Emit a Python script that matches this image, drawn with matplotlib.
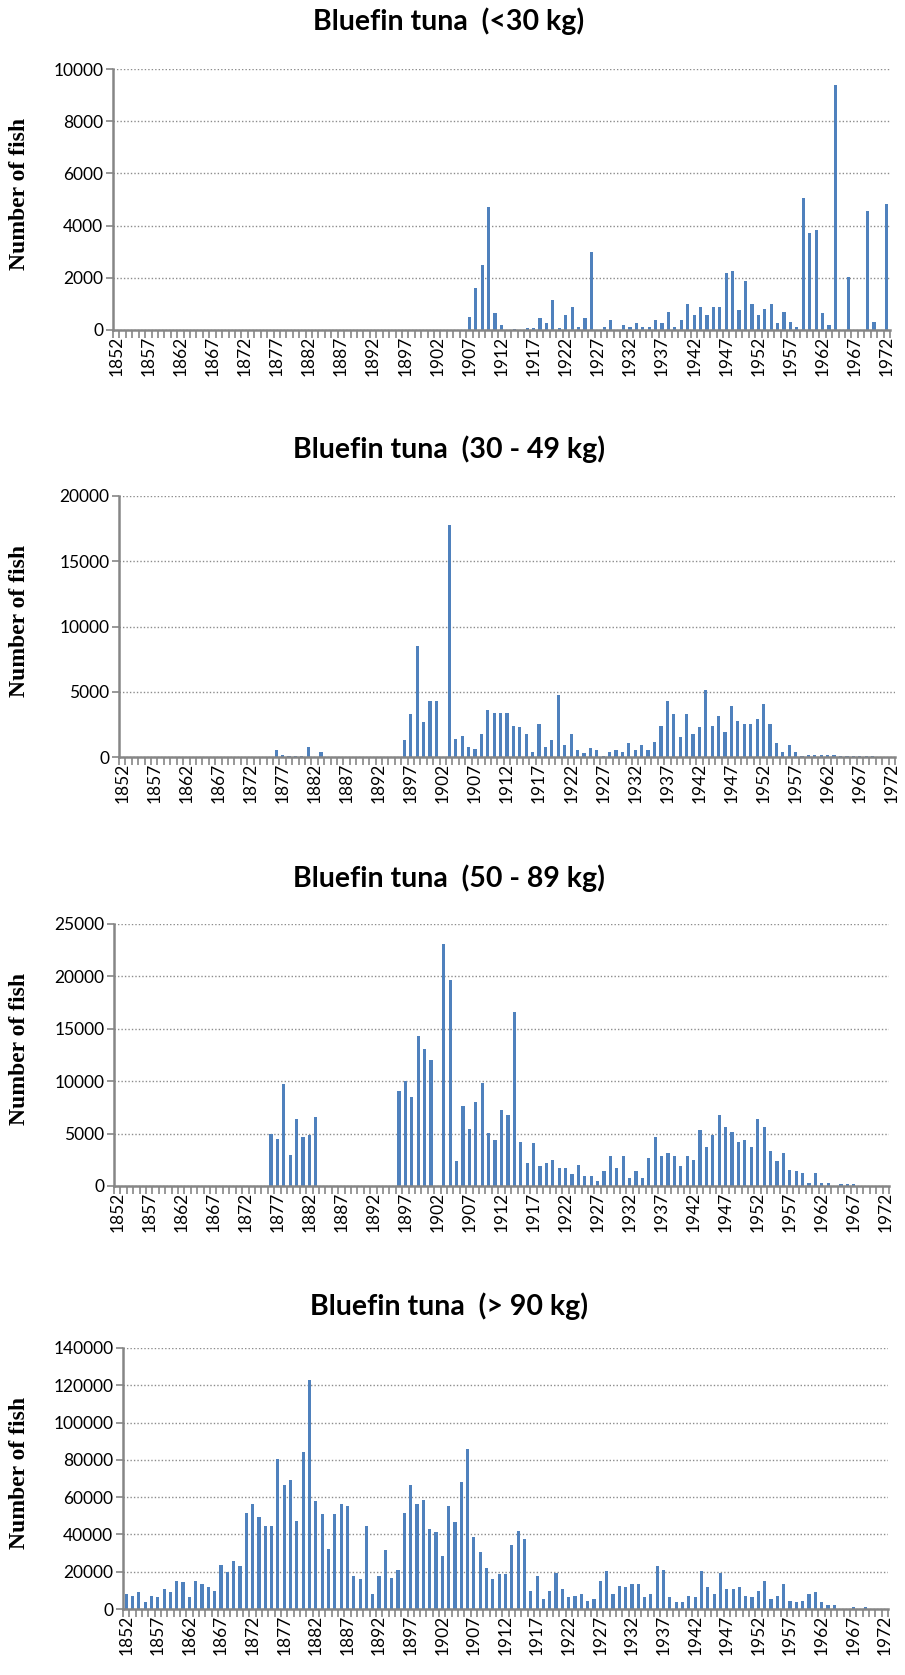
import matplotlib
matplotlib.use('Agg')
import matplotlib.pyplot as plt
import matplotlib.transforms as mtransforms
import numpy as np

# years on the category axis
years = list(range(1852, 1973))
label_years = list(range(1852, 1973, 5))

# number of fish per year, one row = 10 years (1852-1861, 1862-1871, ...)
under_30 = [
    0, 0, 0, 0, 0, 0, 0, 0, 0, 0,
    0, 0, 0, 0, 0, 0, 0, 0, 0, 0,
    0, 0, 0, 0, 0, 0, 0, 0, 0, 0,
    0, 0, 0, 0, 0, 0, 0, 0, 0, 0,
    0, 0, 0, 0, 0, 0, 0, 0, 0, 0,
    0, 0, 0, 0, 0, 500, 1600, 2500, 4700, 640,
    200, 0, 20, 0, 80, 80, 450, 260, 1150, 80,
    580, 870, 130, 450, 3000, 0, 130, 380, 0, 190,
    130, 260, 130, 130, 380, 260, 690, 130, 380, 1010,
    580, 880, 580, 880, 880, 2200, 2260, 770, 1890, 1010,
    580, 820, 1010, 260, 690, 320, 130, 5070, 3700, 3820,
    640, 190, 9380, 0, 2020, 0, 0, 4560, 320, 0,
    4820,
]

from_30_49 = [
    0, 0, 0, 0, 0, 0, 0, 0, 0, 0,
    0, 0, 0, 0, 0, 0, 0, 0, 0, 0,
    0, 0, 0, 0, 550, 180, 40, 40, 40, 790,
    30, 410, 0, 0, 0, 0, 0, 0, 0, 0,
    0, 0, 0, 0, 1300, 3290, 8540, 2650, 4310, 4310,
    0, 17750, 1380, 1630, 740, 610, 1730, 3620, 3370, 3370,
    3370, 2370, 2270, 1790, 410, 2525, 790, 1300, 4770, 920,
    1790, 535, 280, 660, 535, 75, 410, 535, 410, 1045,
    535, 920, 535, 1170, 2400, 4310, 3290, 1530, 3290, 1790,
    2300, 5150, 2400, 3160, 1910, 3900, 2780, 2525, 2525, 2910,
    4030, 2525, 1045, 410, 920, 410, 75, 150, 150, 150,
    150, 150, 50, 50, 50, 50, 50, 50, 0, 0,
    0,
]

from_50_89 = [
    0, 0, 0, 0, 0, 0, 0, 0, 0, 0,
    0, 0, 0, 0, 0, 0, 0, 0, 0, 0,
    0, 0, 0, 0, 5000, 4530, 9700, 3000, 6410, 4690,
    4850, 6570, 0, 0, 0, 0, 0, 0, 0, 0,
    0, 0, 0, 0, 9060, 10020, 8450, 14360, 13110, 12030,
    0, 23130, 19680, 2360, 7660, 5450, 7980, 9830, 5010, 4370,
    7210, 6730, 16590, 4240, 2200, 4080, 1880, 2200, 2520, 1720,
    1720, 1120, 2040, 960, 960, 480, 1440, 2840, 1720, 2840,
    800, 1440, 800, 2680, 4690, 2840, 3160, 2840, 1880, 2840,
    2520, 5330, 3760, 4850, 6730, 5650, 5170, 4240, 4370, 3760,
    6410, 5650, 3320, 2360, 3160, 1560, 1440, 1280, 320, 1280,
    320, 320, 0, 160, 160, 160, 0, 0, 0, 0,
    0,
]

over_90 = [
    8020, 7130, 9090, 3740, 7130, 6240, 10700, 9090, 14980, 14260,
    6240, 14980, 13370, 11590, 9810, 23720, 19610, 25500, 23000, 51710,
    56160, 49210, 44750, 44750, 80400, 66500, 69180, 47430, 83980, 123000,
    57770, 50820, 32450, 50820, 56160, 55270, 17650, 15870, 44750, 8200,
    17650, 31560, 16760, 21040, 51710, 66500, 56160, 58660, 42970, 41190,
    28170, 55270, 46540, 68290, 85760, 38510, 30670, 21930, 15870, 18540,
    18540, 34230, 42080, 37620, 9810, 17650, 5350, 9810, 19430, 10700,
    6240, 7130, 8020, 4460, 5350, 14980, 20330, 8020, 12480, 11590,
    13370, 13370, 6240, 8020, 22820, 21040, 6240, 3740, 3740, 7130,
    6240, 20330, 11590, 8020, 19430, 10700, 10700, 11590, 7130, 6240,
    9810, 14980, 5350, 7130, 13370, 4460, 3740, 4460, 8020, 8910,
    3740, 1960, 1960, 0, 0, 890, 0, 890, 0, 0,
    0,
]

titles = ['Bluefin tuna  (<30 kg)', 'Bluefin tuna  (30 - 49 kg)',
          'Bluefin tuna  (50 - 89 kg)', 'Bluefin tuna  (> 90 kg)']
series = [under_30, from_30_49, from_50_89, over_90]
y_max = [10000, 20000, 25000, 140000]
y_step = [2000, 5000, 5000, 20000]

W, H = 905, 1675
# axes boxes in pixels: left, right, top, bottom
boxes = [(113, 890, 69, 330), (119, 895, 496, 757),
         (114, 889, 924, 1186), (123, 888, 1348, 1609)]
title_y = [21, 449, 878, 1306]

BLUE = '#4F81BD'
GREY = '#868686'
tick_font = 'Lato'

fig = plt.figure(figsize=(W / 100, H / 100), dpi=100)
shift = mtransforms.ScaledTranslation(2.5 / 100, 0, fig.dpi_scale_trans)

for i in range(4):
    l, r, t, b = boxes[i]
    ax = fig.add_axes([l / W, 1 - b / H, (r - l) / W, (b - t) / H])
    ax.bar(years, series[i], width=0.5, color=BLUE, zorder=3)

    ax.set_xlim(years[0] - 0.5, years[-1] + 0.5)
    ax.set_ylim(0, y_max[i])
    ax.set_yticks(np.arange(0, y_max[i] + 1, y_step[i]))
    ax.set_xticks(label_years)
    ax.set_xticks(np.arange(years[0] - 0.5, years[-1] + 1, 1), minor=True)
    ax.set_xticklabels([str(y) for y in label_years], rotation=90,
                       fontsize=12.5, family=tick_font)
    for lab in ax.get_xticklabels():
        lab.set_transform(lab.get_transform() + shift)
    for lab in ax.get_yticklabels():
        lab.set_fontsize(12.5)
        lab.set_family(tick_font)

    ax.tick_params(axis='x', which='major', length=0, pad=4)
    ax.tick_params(axis='x', which='minor', length=6, width=1.2, color=GREY)
    ax.tick_params(axis='y', length=5, width=1.2, color=GREY, pad=2)

    ax.yaxis.grid(True, color='#8c8c8c', linestyle=(0, (1, 1.5)), linewidth=1.0, zorder=0)
    ax.set_axisbelow(True)
    for side in ['top', 'right']:
        ax.spines[side].set_visible(False)
    for side in ['left', 'bottom']:
        ax.spines[side].set_color(GREY)
        ax.spines[side].set_linewidth(1.8)
    ax.spines['bottom'].set_zorder(4)

    fig.text(449 / W, 1 - title_y[i] / H, titles[i], ha='center', va='center',
             fontsize=20.5, fontweight='bold', family='Lato')
    fig.text(20 / W, 1 - ((t + b) / 2 - 6) / H, 'Number of fish', rotation=90,
             ha='center', va='center', fontsize=17, fontweight='bold',
             family='Liberation Serif')

fig.savefig('out.png', dpi=100)
